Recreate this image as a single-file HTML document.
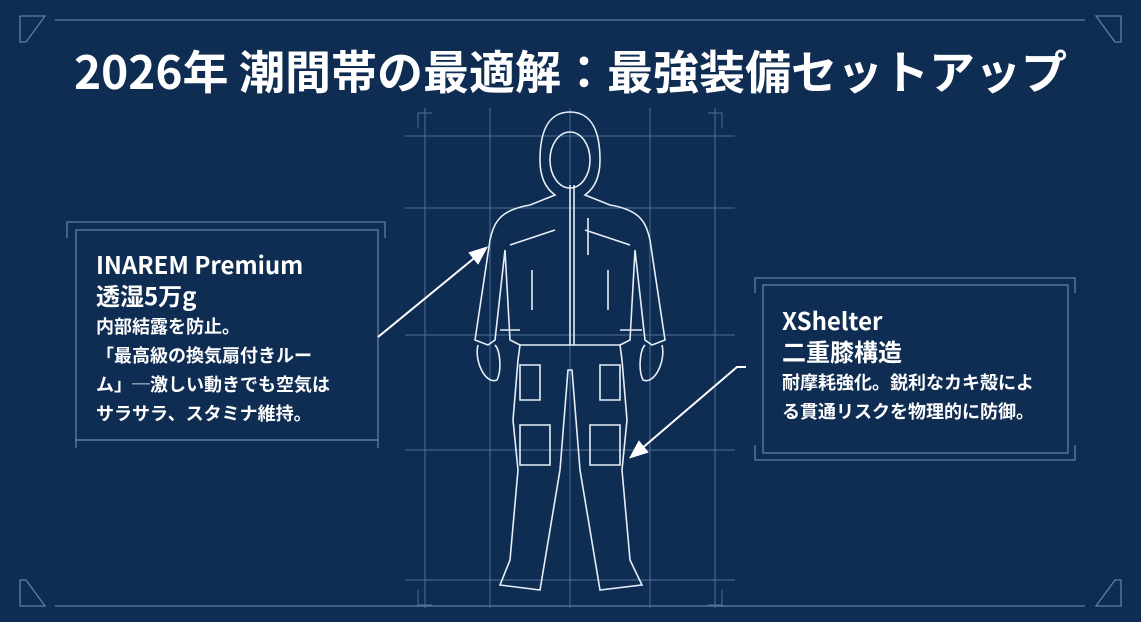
<!DOCTYPE html>
<html><head><meta charset="utf-8"><style>
body{margin:0;width:1141px;height:622px;background:#0f2d52;overflow:hidden;position:relative;font-family:"Noto Sans CJK JP",sans-serif;color:#fff}
.t{position:absolute;left:0;width:1141px;top:37px;text-align:center;font-size:46px;line-height:66px;font-weight:bold}
.box{position:absolute;font-weight:bold}
h2{margin:0;font-size:24px;line-height:31px;font-weight:bold}
p{margin:2px 0 0;font-size:18px;line-height:29px;font-weight:bold}
</style></head><body>
<svg width="1141" height="622" style="position:absolute;left:0;top:0" fill="none">
<g stroke="#5f7fa6" stroke-width="1.3">
<line x1="55" y1="20" x2="1085" y2="20"/>
<path d="M20 16 H45 L26 42 H20 Z"/><path d="M1121 16 H1096 L1115 42 H1121 Z"/>
<path d="M20 606 H45 L26 580 H20 Z"/><path d="M1121 606 H1096 L1115 580 H1121 Z"/>
<line x1="55" y1="606" x2="1085" y2="606"/>
<path d="M67 238 V222 H385 V238"/><path d="M76 448 V440 H378 V448"/>
<rect x="76" y="230" width="302" height="210"/>
<path d="M755 293 V278 H1075 V293"/><rect x="763" y="285" width="305" height="168"/><path d="M755 445 V460 H1075 V445"/>
</g>
<g stroke="#4d6f98" stroke-width="1">
<line x1="425" y1="108" x2="425" y2="608"/><line x1="490" y1="108" x2="490" y2="608"/><line x1="570" y1="108" x2="570" y2="608"/><line x1="650" y1="108" x2="650" y2="608"/><line x1="715" y1="108" x2="715" y2="608"/>
<line x1="405" y1="136" x2="735" y2="136"/><line x1="405" y1="208" x2="735" y2="208"/><line x1="405" y1="335" x2="735" y2="335"/><line x1="405" y1="450" x2="735" y2="450"/><line x1="405" y1="580" x2="735" y2="580"/>
<path d="M418 128 V113 H432 M708 113 H722 V128 M418 590 V605 H432 M708 605 H722 V590"/>
</g>
<g stroke="#e6eef8" stroke-width="1.6">
<path d="M570 112 C548 112 540 132 540 160 C540 180 548 190 555 195 L530 205 C500 210 494 222 490 240 L478 320 L475 340 L488 345 L495 340 L505 250 L510 340 L520 345 L518 360 L513 420 L518 470 L510 560 L500 585 L540 590 L545 560 L560 470 L568 370 L572 370 L580 470 L595 560 L600 590 L642 585 L630 560 L622 470 L627 420 L622 360 L620 345 L630 340 L635 250 L645 340 L652 345 L665 340 L662 320 L650 240 C646 222 640 210 610 205 L585 195 C592 190 600 180 600 160 C600 132 592 112 570 112 Z"/>
<ellipse cx="570" cy="160" rx="20" ry="28"/>
<line x1="570" y1="185" x2="570" y2="345"/><line x1="574" y1="185" x2="574" y2="345"/>
<path d="M520 345 H620 M478 345 C474 360 485 385 497 380 C502 370 500 350 495 345 M662 345 C666 360 655 385 643 380 C638 370 640 350 645 345"/>
<path d="M520 425 H550 V465 H520 Z M590 425 H620 V465 H590 Z M520 365 H540 V400 H520 Z M600 365 H620 V400 H600 Z M588 218 V255 M532 270 V310 M608 270 V310 M500 330 H520 M620 330 H642 M510 245 L555 230 M630 245 L585 230"/>
</g>
<g stroke="#fff" stroke-width="2" fill="#fff">
<line x1="378" y1="337" x2="478" y2="255"/><path d="M486 248 L470 253 L478 263 Z"/>
<polyline points="746,367 737,367 640,450" fill="none"/><path d="M631 457 L639 442 L647 452 Z"/>
</g>
</svg>
<div class="t">2026年 潮間帯の最適解：最強装備セットアップ</div>
<div class="box" style="left:96px;top:248px"><h2>INAREM Premium<br>透湿5万g</h2><p>内部結露を防止。<br>「最高級の換気扇付きルー<br>ム」─激しい動きでも空気は<br>サラサラ、スタミナ維持。</p></div>
<div class="box" style="left:782px;top:304px"><h2>XShelter<br>二重膝構造</h2><p>耐摩耗強化。鋭利なカキ殻によ<br>る貫通リスクを物理的に防御。</p></div>
</body></html>
